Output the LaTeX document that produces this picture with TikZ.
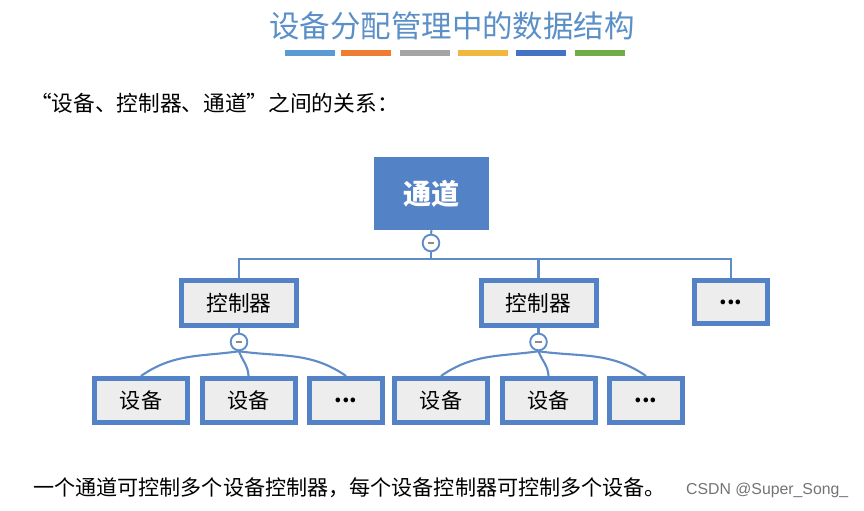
\documentclass[tikz,border=0pt]{standalone}
\usepackage{fontspec}
\setmainfont{Noto Sans CJK SC}
\newfontfamily\wmfont{Liberation Sans}
\definecolor{titleblue}{RGB}{91,143,199}
\definecolor{boxblue}{RGB}{84,130,198}
\definecolor{lineblue}{RGB}{95,140,200}
\definecolor{boxgray}{RGB}{237,237,237}
\definecolor{barblue}{RGB}{91,155,213}
\definecolor{barorange}{RGB}{237,125,49}
\definecolor{bargray}{RGB}{165,165,165}
\definecolor{baryellow}{RGB}{240,184,64}
\definecolor{bardarkblue}{RGB}{68,114,196}
\definecolor{bargreen}{RGB}{112,173,71}
\begin{document}
\begin{tikzpicture}[x=0.03cm, y=0.03cm,
      chanbox/.style={fill=boxblue, text=white, minimum width=3.45cm, minimum height=2.19cm,
        inner sep=0pt, font=\fontsize{24}{28}\selectfont\bfseries},
      ctrlbox/.style={draw=boxblue, line width=0.15cm, fill=boxgray, minimum width=3.45cm,
        minimum height=1.35cm, inner sep=0pt, font=\fontsize{18.5}{22}\selectfont},
      devbox/.style={ctrlbox, minimum width=2.79cm, minimum height=1.32cm, font=\fontsize{18}{22}\selectfont},
      morebox/.style={ctrlbox, minimum width=2.19cm},
      fold/.style={draw=lineblue, line width=1.6pt, fill=white, circle, minimum size=0.5cm, inner sep=0pt,
        path picture={\draw[black!45, line width=1.6pt] ([xshift=-1mm]path picture bounding box.center)
          -- ([xshift=1mm]path picture bounding box.center);}},
      link/.style={draw=lineblue, line width=1.8pt},
      colbar/.style={line width=4.5pt}]
    \useasboundingbox (0,0) rectangle (864,511);

    % title
    \node[text=titleblue, font=\fontsize{26}{30}\selectfont] (title) at (452,485) {设备分配管理中的数据结构};
    \draw[colbar, barblue] (285,458) -- (335,458);
    \draw[colbar, barorange] (341,458) -- (391,458);
    \draw[colbar, bargray] (400,458) -- (450,458);
    \draw[colbar, baryellow] (458,458) -- (508,458);
    \draw[colbar, bardarkblue] (516,458) -- (566,458);
    \draw[colbar, bargreen] (575,458) -- (625,458);

    \node[anchor=west, inner sep=0pt, font=\fontsize{18.5}{22}\selectfont] (intro) at (30,408)
      {“设备、控制器、通道”之间的关系：};

    % tree
    \node[chanbox] (chan) at (431.5,317.5) {通道};
    \node[fold] (m0) at (431,268) {};
    \coordinate (bar) at (431,252);

    \node[ctrlbox] (ctrl1) at (239,208) {控制器};
    \node[ctrlbox] (ctrl2) at (538.5,208) {控制器};
    \node[morebox, minimum height=1.29cm] (cmore) at (731,209) {\textbf{...}};

    \node[fold] (m1) at (239,169) {};
    \node[fold] (m2) at (538.5,169) {};

    \node[devbox] (d1) at (141,110.5) {设备};
    \node[devbox] (d2) at (248.5,110.5) {设备};
    \node[morebox, minimum height=1.32cm] (d3) at (346,110.5) {\textbf{...}};
    \node[devbox] (d4) at (441,110.5) {设备};
    \node[devbox] (d5) at (548.5,110.5) {设备};
    \node[morebox, minimum height=1.32cm] (d6) at (646,110.5) {\textbf{...}};

    \draw[link] (chan.south) -- (m0.north);
    \draw[link] (m0.south) -- (bar);
    \draw[link] (ctrl1.north) |- (bar) -| (cmore.north);
    \draw[link] (ctrl2.north) -- (ctrl2.north |- bar);
    \draw[link] (ctrl1.south) -- (m1.north);
    \draw[link] (ctrl2.south) -- (m2.north);

    \draw[link] (m1.south) to[out=188, in=35] (d1.north);
    \draw[link] (m1.south) to[out=-70, in=92] (d2.north);
    \draw[link] (m1.south) to[out=-8, in=145] (d3.north);
    \draw[link] (m2.south) to[out=188, in=35] (d4.north);
    \draw[link] (m2.south) to[out=-70, in=92] (d5.north);
    \draw[link] (m2.south) to[out=-8, in=145] (d6.north);

    \node[anchor=west, inner sep=0pt, font=\fontsize{18}{22}\selectfont] (note) at (33,23)
      {一个通道可控制多个设备控制器，每个设备控制器可控制多个设备。};
    \node[anchor=west, inner sep=0pt, text=black!55, font=\wmfont\fontsize{13.5}{16}\selectfont] (mark) at (686,21)
      {CSDN @Super\_Song\_};
  \end{tikzpicture}
\end{document}
